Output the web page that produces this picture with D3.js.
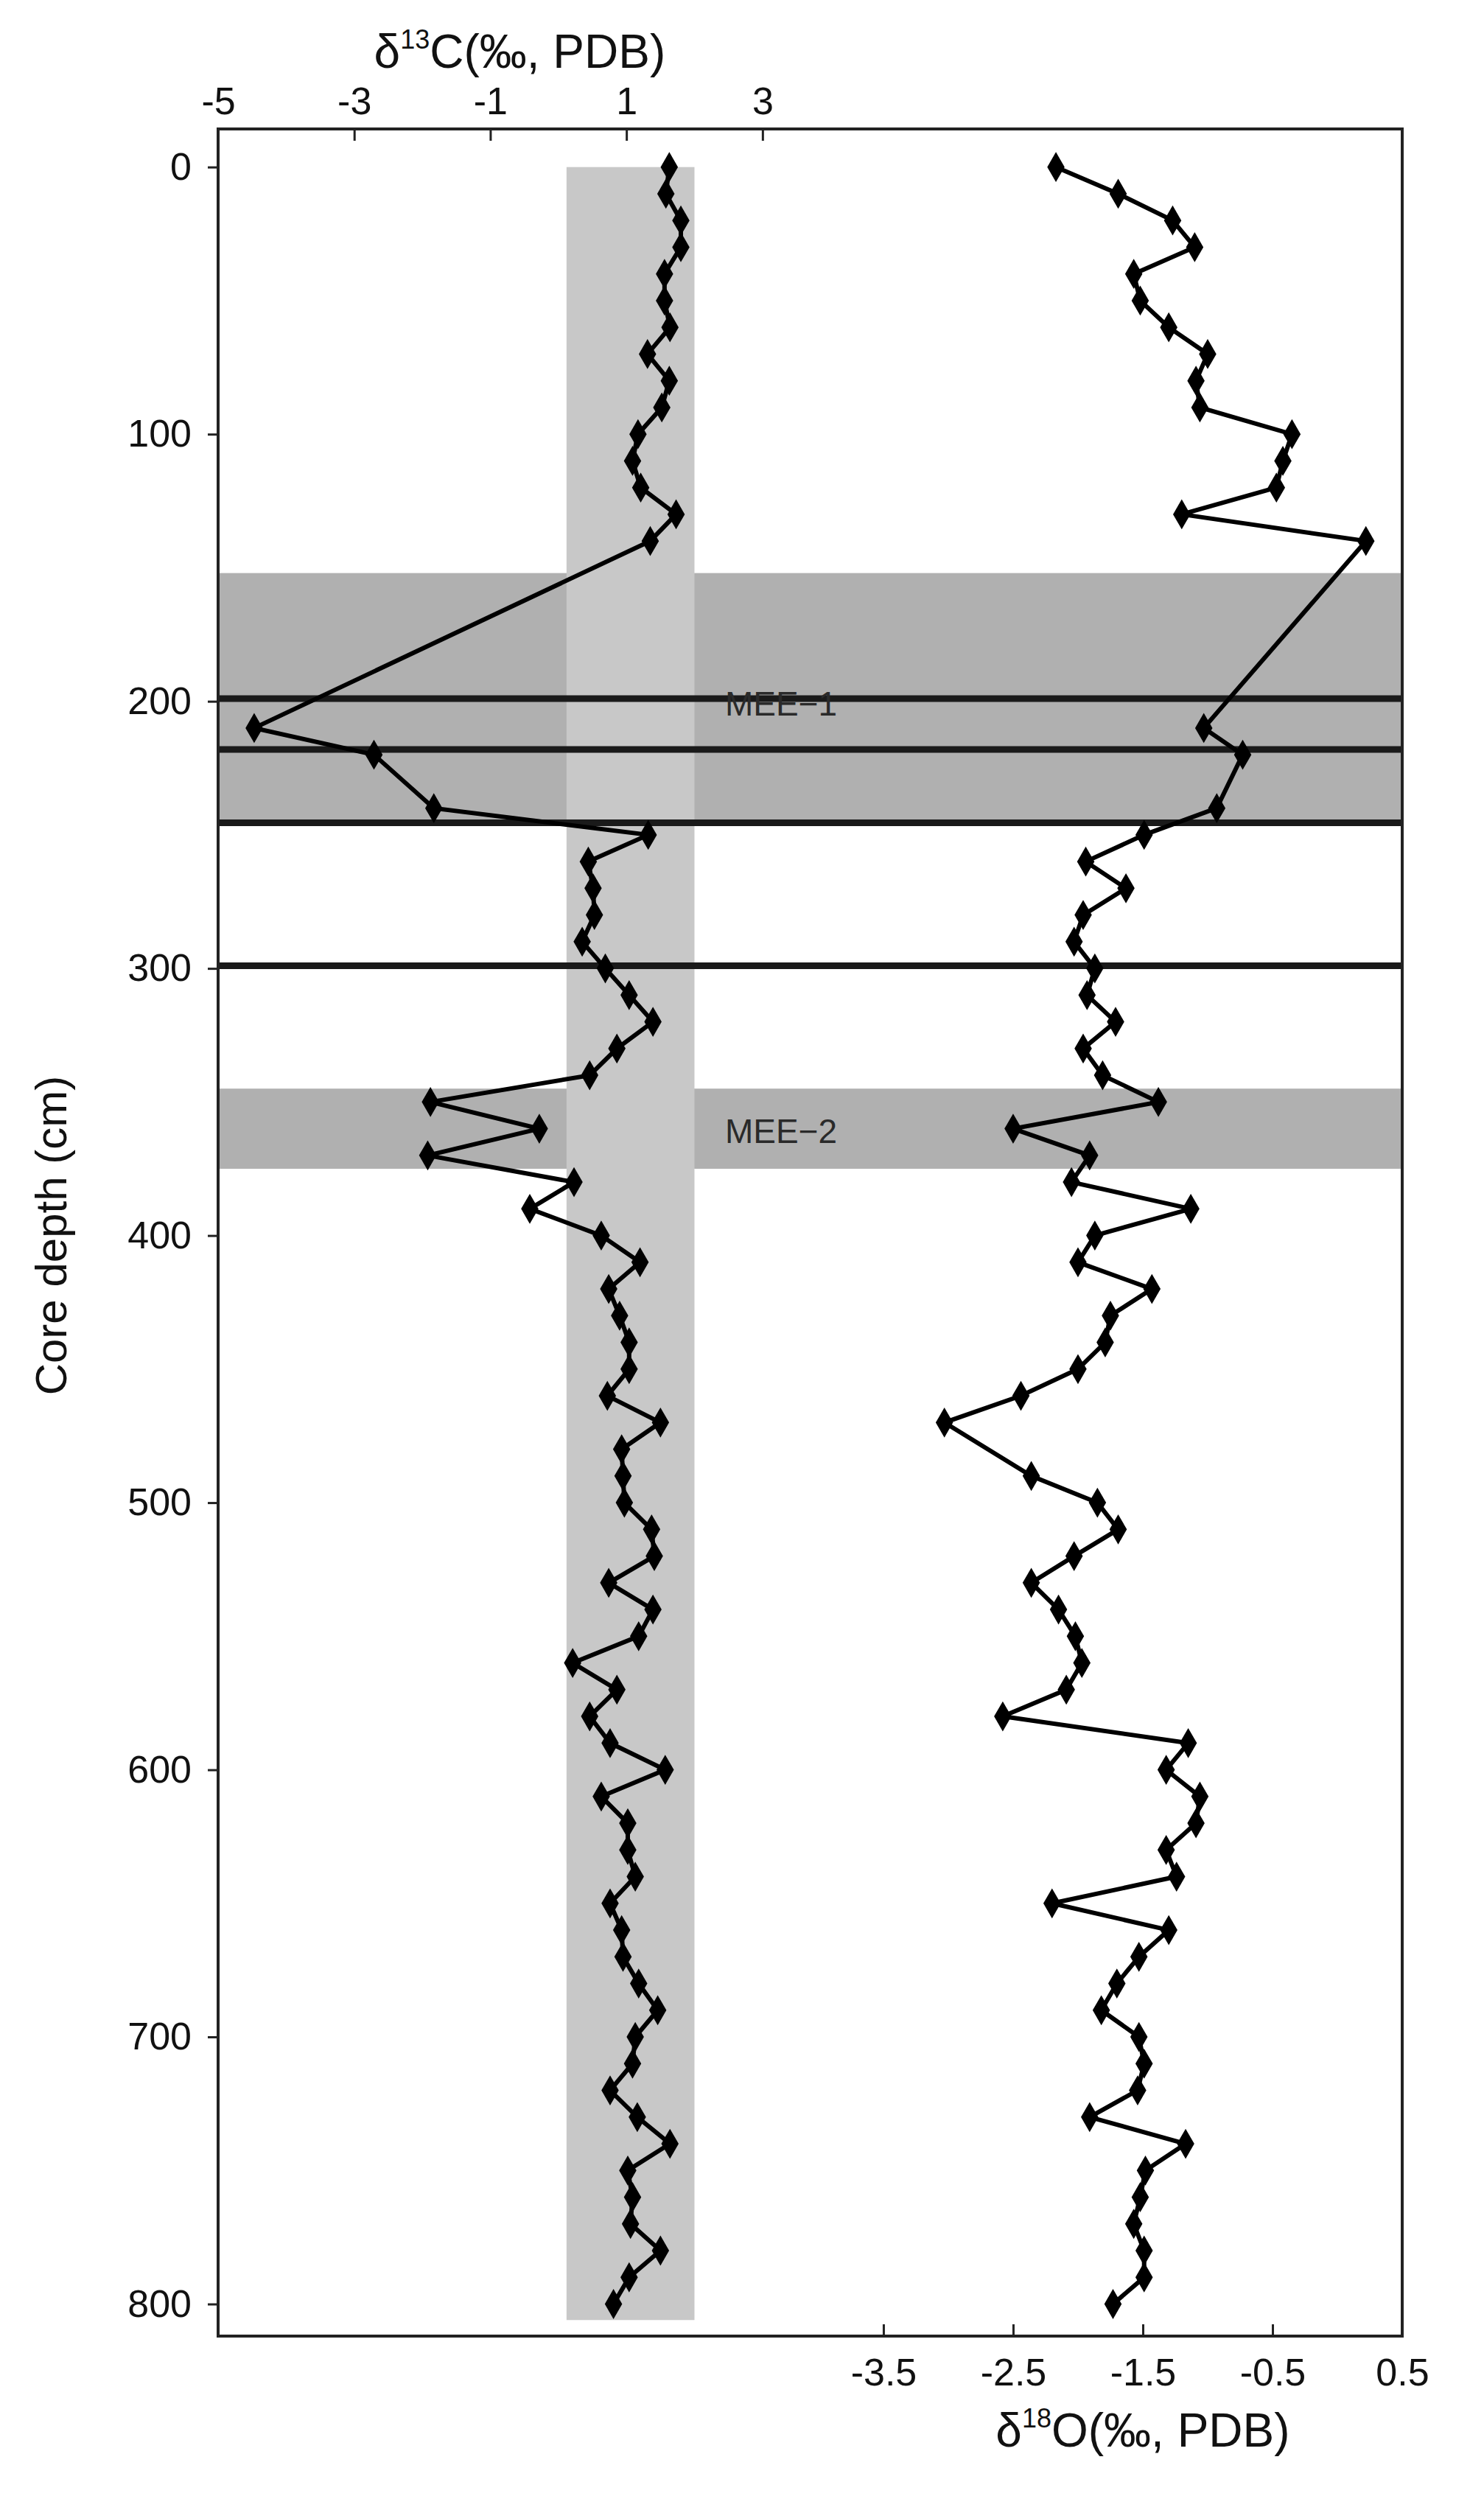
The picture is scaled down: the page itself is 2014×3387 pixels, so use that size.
<!DOCTYPE html>
<html><head><meta charset="utf-8">
<script src="https://cdn.jsdelivr.net/npm/d3@7"></script>
<style>body{margin:0;background:#fff}text{font-family:"Liberation Sans",Arial,sans-serif}</style>
</head><body><svg id="c" width="2014" height="3387"></svg>
<script>
const depthTicks=[0,100,200,300,400,500,600,700,800];
const cTicks=[-5,-3,-1,1,3];
const oTicks=[-3.5,-2.5,-1.5,-0.5,0.5];
const cDepth=[0,10,20,30,40,50,60,70,80,90,100,110,120,130,140,210,220,240,250,260,270,280,290,300,310,320,330,340,350,360,370,380,390,400,410,420,430,440,450,460,470,480,490,500,510,520,530,540,550,560,570,580,590,600,610,620,630,640,650,660,670,680,690,700,710,720,730,740,750,760,770,780,790,800];
const cVal=[1.63,1.58,1.80,1.80,1.56,1.56,1.64,1.31,1.63,1.52,1.17,1.09,1.21,1.73,1.35,-4.47,-2.71,-1.83,1.32,0.44,0.51,0.53,0.35,0.69,1.04,1.39,0.86,0.46,-1.88,-0.28,-1.92,0.23,-0.42,0.63,1.20,0.74,0.90,1.04,1.04,0.72,1.50,0.93,0.95,0.97,1.37,1.41,0.74,1.39,1.18,0.21,0.86,0.46,0.76,1.57,0.63,1.02,1.02,1.13,0.76,0.93,0.95,1.18,1.46,1.13,1.09,0.76,1.16,1.64,1.02,1.09,1.06,1.50,1.04,0.81];
const oDepth=[0,10,20,30,40,50,60,70,80,90,100,110,120,130,140,210,220,240,250,260,270,280,290,300,310,320,330,340,350,360,370,380,390,400,410,420,430,440,450,460,470,490,500,510,520,530,540,550,560,570,580,590,600,610,620,630,640,650,660,670,680,690,700,710,720,730,740,750,760,770,780,790,800];
const oVal=[-2.17,-1.69,-1.27,-1.10,-1.57,-1.52,-1.30,-1.00,-1.09,-1.06,-0.35,-0.42,-0.47,-1.20,0.22,-1.03,-0.73,-0.93,-1.49,-1.94,-1.63,-1.96,-2.03,-1.87,-1.93,-1.71,-1.96,-1.81,-1.38,-2.50,-1.91,-2.05,-1.13,-1.87,-2.00,-1.43,-1.75,-1.79,-2.00,-2.44,-3.03,-2.36,-1.85,-1.69,-2.03,-2.36,-2.15,-2.02,-1.97,-2.09,-2.58,-1.15,-1.32,-1.06,-1.09,-1.32,-1.24,-2.20,-1.30,-1.53,-1.70,-1.82,-1.53,-1.49,-1.54,-1.91,-1.17,-1.48,-1.52,-1.57,-1.49,-1.49,-1.73];
const bandDepth=[[152,245],[345,375]];
const bandLabels=["MEE-1","MEE-2"];
const labelDepth=[201,361];
const lineDepth=[199,218,245.5,299];
const cBand=[0.12,2.0];

const L=296,R=1903,T=175,B=3170;
const svg=d3.select("#c");
const y=d3.scaleLinear().domain([-11.5,812]).range([T+10,B]);
const xc=d3.scaleLinear().domain([-5,12.4]).range([L,R]);
const xo=d3.scaleLinear().domain([-8.63,0.5]).range([L,R]);
const narrow="Liberation Sans Narrow, Liberation Sans";

svg.selectAll("rect.hb").data(bandDepth).join("rect")
 .attr("x",L).attr("width",R-L).attr("y",d=>y(d[0])).attr("height",d=>y(d[1])-y(d[0])).attr("fill","#b0b0b0");
svg.append("rect").attr("x",xc(cBand[0])).attr("width",xc(cBand[1])-xc(cBand[0]))
 .attr("y",y(0)).attr("height",y(806)-y(0)).attr("fill","#c8c8c8");
svg.selectAll("line.h").data(lineDepth).join("line")
 .attr("x1",L).attr("x2",R).attr("y1",d=>y(d)).attr("y2",d=>y(d)).attr("stroke","#1a1a1a").attr("stroke-width",9);
svg.selectAll("text.mee").data(bandLabels).join("text")
 .attr("x",xc(2.45)).attr("y",(d,i)=>y(labelDepth[i])).attr("dy","0.35em")
 .attr("font-size",46).attr("fill","#2a2a2a").style("font-family",narrow).text(d=>d.replace("-","\u2212"));

function series(xs,vals,depths){
 const pts=vals.map((v,i)=>[xs(v),y(depths[i])]);
 svg.append("path").attr("d",d3.line()(pts)).attr("fill","none").attr("stroke","#000").attr("stroke-width",6);
 svg.selectAll(null).data(pts).join("path").attr("d",d3.symbol(d3.symbolDiamond,480)())
  .attr("transform",d=>`translate(${d[0]},${d[1]})`).attr("fill","#000");
}
series(xc,cVal,cDepth);
series(xo,oVal,oDepth);

svg.append("rect").attr("x",L).attr("y",T).attr("width",R-L).attr("height",B-T).attr("fill","none").attr("stroke","#222").attr("stroke-width",4);

const fs=52;
const fmt=d=>String(d);
const gt=svg.append("g").attr("transform",`translate(0,${T})`)
 .call(d3.axisTop(xc).tickValues(cTicks).tickFormat(fmt).tickSizeInner(-16).tickSizeOuter(0).tickPadding(20));
gt.select(".domain").remove();
gt.selectAll("line").attr("stroke","#222").attr("stroke-width",3);
gt.selectAll("text").attr("font-size",fs).attr("fill","#111").style("font-family",narrow);
const gb=svg.append("g").attr("transform",`translate(0,${B})`)
 .call(d3.axisBottom(xo).tickValues(oTicks).tickFormat(fmt).tickSizeInner(-16).tickSizeOuter(0).tickPadding(30));
gb.select(".domain").remove();
gb.selectAll("line").attr("stroke","#222").attr("stroke-width",3);
gb.selectAll("text").attr("font-size",fs).attr("fill","#111").style("font-family",narrow);
const gl=svg.append("g").attr("transform",`translate(${L},0)`)
 .call(d3.axisLeft(y).tickValues(depthTicks).tickSizeInner(14).tickSizeOuter(0).tickPadding(22));
gl.select(".domain").remove();
gl.selectAll("line").attr("stroke","#222").attr("stroke-width",3);
gl.selectAll("text").attr("font-size",fs).attr("fill","#111").style("font-family",narrow);

const t1=svg.append("text").attr("x",(xc(-5)+xc(3))/2+40).attr("y",92).attr("text-anchor","middle").attr("font-size",64).attr("fill","#111").style("font-family",narrow);
t1.append("tspan").text("δ");t1.append("tspan").attr("font-size",36).attr("dy",-26).text("13");
t1.append("tspan").attr("dy",26).text("C(‰, PDB)");
const t2=svg.append("text").attr("x",xo(-1.5)).attr("y",3320).attr("text-anchor","middle").attr("font-size",64).attr("fill","#111").style("font-family",narrow);
t2.append("tspan").text("δ");t2.append("tspan").attr("font-size",36).attr("dy",-26).text("18");
t2.append("tspan").attr("dy",26).text("O(‰, PDB)");
svg.append("text").attr("transform",`translate(90,${y(400)}) rotate(-90)`).attr("text-anchor","middle")
 .attr("font-size",60).attr("fill","#111").style("font-family",narrow).text("Core depth (cm)");
</script></body></html>
